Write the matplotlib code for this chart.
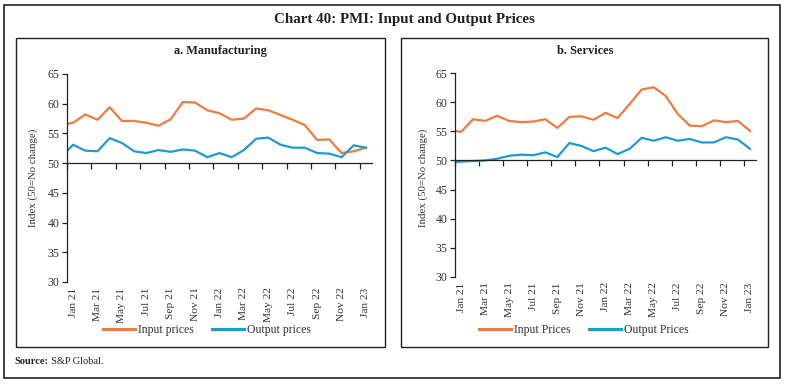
import numpy as np
import matplotlib
matplotlib.use("Agg")
import matplotlib.pyplot as plt
from matplotlib.patches import Rectangle
from matplotlib.lines import Line2D

# ---------------- data ----------------
months = ["Dec 20", "Jan 21", "Feb 21", "Mar 21", "Apr 21", "May 21", "Jun 21",
          "Jul 21", "Aug 21", "Sep 21", "Oct 21", "Nov 21", "Dec 21",
          "Jan 22", "Feb 22", "Mar 22", "Apr 22", "May 22", "Jun 22",
          "Jul 22", "Aug 22", "Sep 22", "Oct 22", "Nov 22", "Dec 22", "Jan 23"]

mfg_input = [56.4, 56.8, 58.2, 57.3, 59.4, 57.1, 57.1, 56.8, 56.3, 57.4, 60.3, 60.2, 58.9,
             58.4, 57.3, 57.5, 59.2, 58.9, 58.1, 57.3, 56.4, 53.9, 54.0, 51.7, 52.0, 52.6]
mfg_output = [51.0, 53.1, 52.1, 52.0, 54.2, 53.4, 52.0, 51.7, 52.2, 51.9, 52.3, 52.1, 51.0,
              51.7, 51.0, 52.2, 54.1, 54.3, 53.1, 52.6, 52.6, 51.7, 51.6, 51.0, 53.0, 52.6]

svc_input = [55.3, 54.9, 57.1, 56.8, 57.7, 56.8, 56.6, 56.7, 57.1, 55.6, 57.5, 57.6, 57.0,
             58.2, 57.3, 59.7, 62.2, 62.6, 61.1, 58.0, 56.0, 55.9, 56.9, 56.6, 56.8, 55.1]
svc_output = [49.6, 49.8, 49.9, 50.0, 50.3, 50.8, 51.0, 50.9, 51.4, 50.6, 53.0, 52.5, 51.6,
              52.2, 51.1, 52.0, 53.9, 53.4, 54.0, 53.4, 53.7, 53.1, 53.1, 54.0, 53.6, 52.0]

y_ticks = [30, 35, 40, 45, 50, 55, 60, 65]

ORANGE = "#F07B3F"
BLUE = "#1F9BD3"

plt.rcParams['font.family'] = ['Liberation Serif', 'DejaVu Serif']

W, H = 785, 386
fig = plt.figure(figsize=(W / 100, H / 100), dpi=100)


def fx(px):
    return px / W


def fy(py):
    return 1 - py / H


def box(x0, y0, x1, y1, lw=1.0):
    fig.patches.append(Rectangle((fx(x0), fy(y1)), fx(x1) - fx(x0), fy(y0) - fy(y1),
                                 transform=fig.transFigure, fill=False,
                                 lw=lw, ec="#222222"))


# outer frame and panel frames
box(4, 5, 780, 378, lw=1.2)
box(16, 38, 385, 347)
box(401, 38, 768, 347)

fig.text(fx(404), fy(20), "Chart 40: PMI: Input and Output Prices", ha="center",
         va="center", fontsize=10.8, fontweight="bold", color="#222222")


def panel(ax_px, title, title_x, inp, out, labels, ylab_x, legend_x):
    x0, y0, x1, y1 = ax_px
    ax = fig.add_axes([fx(x0), fy(y1), fx(x1) - fx(x0), fy(y0) - fy(y1)])
    x = np.arange(len(months)) - 1
    ax.plot(x, inp, color=ORANGE, lw=1.6, solid_joinstyle="round")
    ax.plot(x, out, color=BLUE, lw=1.6, solid_joinstyle="round")
    ax.set_xlim(-0.5, 24.5)
    ax.set_ylim(30, 65)
    ax.set_yticks(y_ticks)
    ax.set_facecolor("none")
    for s in ("top", "right"):
        ax.spines[s].set_visible(False)
    ax.spines["left"].set_color("#222222")
    ax.spines["left"].set_linewidth(0.9)
    ax.spines["bottom"].set_position(("data", 50))
    ax.spines["bottom"].set_color("#222222")
    ax.spines["bottom"].set_linewidth(0.9)
    ax.set_xticks(np.arange(-0.5, 24, 2))
    ax.tick_params(axis="x", direction="out", length=4, width=0.9,
                   color="#222222", labelbottom=False)
    ax.tick_params(axis="y", direction="out", length=3.5, width=0.9,
                   color="#222222", labelsize=8.5, labelcolor="#333333", pad=2)

    sec = ax.secondary_xaxis(0)
    sec.set_xticks(x[1::2], months[1::2])
    sec.tick_params(length=0, labelrotation=90, labelsize=8.2,
                    labelcolor="#333333", pad=4)
    sec.spines["bottom"].set_visible(False)

    fig.text(fx(title_x), fy(51), title, ha="center", va="center",
             fontsize=8.9, fontweight="bold", color="#222222")
    fig.text(fx(ylab_x), fy(178), "Index (50=No change)", rotation=90,
             ha="center", va="center", fontsize=7.8, color="#333333")

    handles = [Line2D([], [], color=ORANGE, lw=2.2),
               Line2D([], [], color=BLUE, lw=2.2)]
    fig.legend(handles, labels, loc="center", bbox_to_anchor=(fx(legend_x), fy(330)),
               ncol=2, frameon=False, fontsize=8.5, handlelength=2.7,
               handletextpad=0.25, columnspacing=1.6, labelcolor="#333333")
    return ax


panel((67, 74, 372, 282), "a. Manufacturing", 220, mfg_input, mfg_output,
      ["Input prices", "Output prices"], 33, 207)
panel((455, 73.3, 756, 276.7), "b. Services", 585, svc_input, svc_output,
      ["Input Prices", "Output Prices"], 423, 584)

fig.text(fx(14), fy(362), "Source:", ha="left", va="center", fontsize=7.5,
         fontweight="bold", color="#222222")
fig.text(fx(51), fy(362), "S&P Global.", ha="left", va="center", fontsize=7.5,
         color="#222222")

fig.savefig("out.png", dpi=100)
